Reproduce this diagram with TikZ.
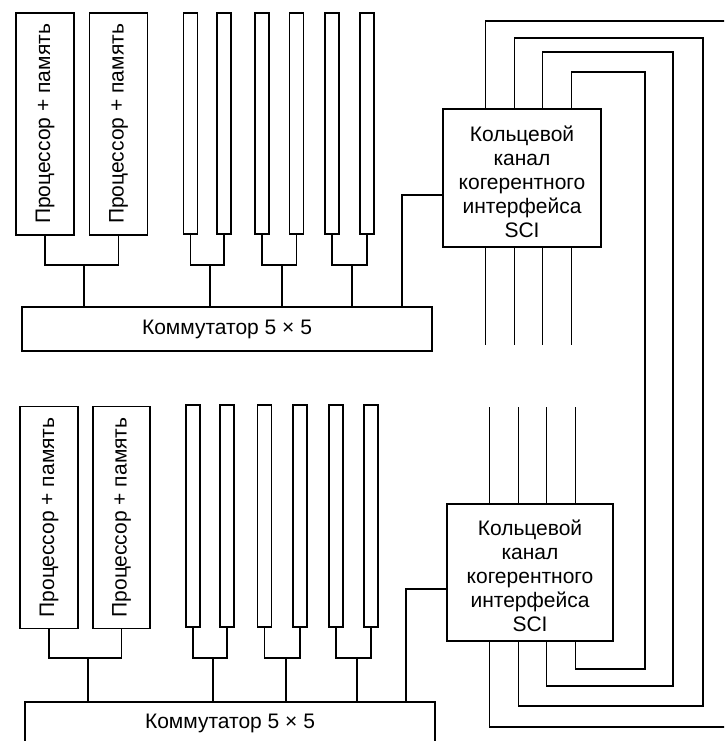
\documentclass[tikz,border=0pt]{standalone}
\usepackage{fontspec}
\setmainfont{Liberation Sans}
\usepackage{graphicx}
\usepackage{tikz}

\tikzset{
  box/.style={draw, inner sep=0pt, font=\fontsize{21}{24}\selectfont},
  proc/.style={box, minimum width=58, minimum height=222},
  slot/.style={box, minimum width=14, minimum height=221},
  switch/.style={box, minimum width=410, minimum height=44},
  sci/.style={box, align=center, minimum height=138},
}

\begin{document}
\begin{tikzpicture}[x=1pt, y=-1pt, line width=1.3pt]

\useasboundingbox (0,0) rectangle (724,741);
\clip (0,0) rectangle (724,741);

%% upper node
\node[proc] (pA1) at (45,124) {\rotatebox{90}{Процессор + память}};
\node[proc] (pA2) at (118.5,124) {\rotatebox{90}{Процессор + память}};
\foreach \x [count=\i] in {190.5,224,262,296.5,332,367}
  \node[slot] (sA\i) at (\x,123.5) {};
\node[switch] (swA) at (227,329) {Коммутатор 5 × 5};
\node[sci, minimum width=158] (sciA) at (522,178)
  {\rule{0pt}{24pt}Кольцевой\\канал\\когерентного\\интерфейса\\SCI};

% pairs joined and taken down to the switch
\coordinate (jA0) at (84,265);
\coordinate (jA1) at (210,265);
\coordinate (jA2) at (282,265);
\coordinate (jA3) at (352,265);
\draw (pA1.south) |- (jA0) -| (pA2.south);
\draw (sA1.south) |- (jA1) -| (sA2.south);
\draw (sA3.south) |- (jA2) -| (sA4.south);
\draw (sA5.south) |- (jA3) -| (sA6.south);
\foreach \j in {0,...,3}
  \draw (jA\j) -- (jA\j |- swA.north);

% switch to ring interface
\coordinate (lA) at (402,195);
\draw (lA |- swA.north) |- (lA -| sciA.west);

%% lower node
\node[proc] (pB1) at (49,517.5) {\rotatebox{90}{Процессор + память}};
\node[proc, minimum width=57] (pB2) at (121.5,517.5) {\rotatebox{90}{Процессор + память}};
\foreach \x [count=\i] in {193,227,264.5,300,336,371}
  \node[slot, minimum height=222] (sB\i) at (\x,516) {};
\node[switch, minimum height=43] (swB) at (230,723.5) {Коммутатор 5 × 5};
\node[sci, minimum width=166, minimum height=137] (sciB) at (530,572.5)
  {\rule{0pt}{22pt}Кольцевой\\канал\\когерентного\\интерфейса\\SCI};

\coordinate (jB0) at (88,658);
\coordinate (jB1) at (213,658);
\coordinate (jB2) at (286,658);
\coordinate (jB3) at (357,658);
\draw (pB1.south) |- (jB0) -| (pB2.south);
\draw (sB1.south) |- (jB1) -| (sB2.south);
\draw (sB3.south) |- (jB2) -| (sB4.south);
\draw (sB5.south) |- (jB3) -| (sB6.south);
\foreach \j in {0,...,3}
  \draw (jB\j) -- (jB\j |- swB.north);

\coordinate (lB) at (406,589);
\draw (lB |- swB.north) |- (lB -| sciB.west);

%% SCI ring: four links round the right side, plus the stubs between the nodes
\foreach \dx/\top/\right/\bot in {43/21/740/727, 72/38/703/706, 100/52/673/686, 129/72/645/669}{
  \draw ([xshift=\dx]sciA.north west) |- (\right,\top) -- (\right,\bot)
    -| ([xshift=\dx]sciB.south west);
  \draw ([xshift=\dx]sciA.south west) -- ++(0,97);
  \draw ([xshift=\dx]sciB.north west) -- ++(0,-96);
}

\end{tikzpicture}
\end{document}
